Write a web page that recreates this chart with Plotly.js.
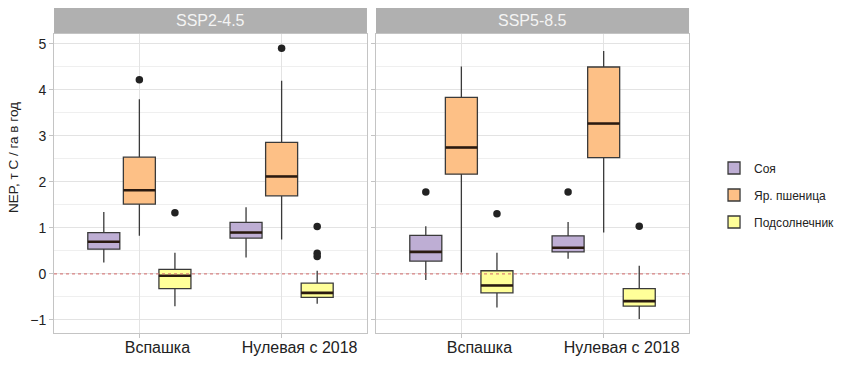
<!DOCTYPE html>
<html>
<head>
<meta charset="utf-8">
<script src="https://cdn.plot.ly/plotly-3.0.1.min.js"></script>
<style>html,body{margin:0;padding:0;background:#fff;}#chart{width:844px;height:390px;}</style>
</head>
<body>
<div id="chart"></div>
<script>
// ---- data ----
const categories = ['Вспашка', 'Нулевая с 2018'];
const crops = ['Соя', 'Яр. пшеница', 'Подсолнечник'];
const scenarios = ['SSP2-4.5', 'SSP5-8.5'];
const yTitle = 'NEP, т C / га в год';
const cropColors = ['#beaed4', '#fdc086', '#ffff99'];

// each entry per category: [lower whisker, q1, median, q3, upper whisker]
const soy245   = [[0.25, 0.54, 0.70, 0.90, 1.35], [0.36, 0.78, 0.90, 1.12, 1.45]];
const wheat245 = [[0.83, 1.52, 1.82, 2.54, 3.80], [0.75, 1.70, 2.12, 2.86, 4.20]];
const sun245   = [[-0.70, -0.32, -0.04, 0.10, 0.46], [-0.65, -0.51, -0.41, -0.20, 0.07]];
const soy585   = [[-0.13, 0.28, 0.48, 0.84, 1.04], [0.33, 0.48, 0.57, 0.83, 1.13]];
const wheat585 = [[0.03, 2.17, 2.75, 3.84, 4.51], [0.90, 2.53, 3.27, 4.50, 4.85]];
const sun585   = [[-0.73, -0.41, -0.25, 0.07, 0.46], [-0.98, -0.70, -0.59, -0.32, 0.18]];

// outliers per category
const soy245Out   = [[], []];
const wheat245Out = [[4.22], [4.91]];
const sun245Out   = [[1.33], [1.03, 0.45, 0.38]];
const soy585Out   = [[1.78], [1.78]];
const wheat585Out = [[], []];
const sun585Out   = [[1.31], [1.04]];

const yTicks = [-1, 0, 1, 2, 3, 4, 5];

// ---- build ----
const FONT = 'Liberation Sans, Arial, sans-serif';
const stats = [[soy245, wheat245, sun245], [soy585, wheat585, sun585]];
const outs  = [[soy245Out, wheat245Out, sun245Out], [soy585Out, wheat585Out, sun585Out]];
const dodge = 0.25, boxW = 0.225;
const traces = [];
scenarios.forEach((sc, s) => {
  const xa = s === 0 ? 'x' : 'x2';
  const ya = s === 0 ? 'y' : 'y2';
  crops.forEach((crop, c) => {
    const st = stats[s][c];
    const off = (c - 1) * dodge;
    const xs = categories.map((_, i) => i + 1 + off);
    traces.push({
      type: 'box', name: crop, legendgroup: crop, showlegend: s === 0,
      xaxis: xa, yaxis: ya, x: xs,
      lowerfence: st.map(d => d[0]), q1: st.map(d => d[1]), median: st.map(d => d[2]),
      q3: st.map(d => d[3]), upperfence: st.map(d => d[4]),
      width: boxW, whiskerwidth: 0, boxpoints: false,
      fillcolor: cropColors[c], line: {color: '#3a3a3a', width: 1.3},
      hoverinfo: 'skip'
    });
    // thick median bars
    const mx = [], my = [];
    st.forEach((d, i) => { mx.push(xs[i] - boxW / 2, xs[i] + boxW / 2, null); my.push(d[2], d[2], null); });
    traces.push({type: 'scatter', mode: 'lines', x: mx, y: my, xaxis: xa, yaxis: ya,
      line: {color: '#2a1a10', width: 2.6}, showlegend: false, hoverinfo: 'skip'});
    // outliers
    const ox = [], oy = [];
    outs[s][c].forEach((arr, i) => arr.forEach(v => { ox.push(xs[i]); oy.push(v); }));
    if (ox.length) traces.push({type: 'scatter', mode: 'markers', x: ox, y: oy, xaxis: xa, yaxis: ya,
      marker: {color: '#222', size: 7.5}, showlegend: false, hoverinfo: 'skip'});
  });
});

const yDom = [0.1462, 0.9128];
const xCommon = {
  range: [0.4, 2.6], tickmode: 'array', tickvals: categories.map((_, i) => i + 1), ticktext: categories,
  showgrid: true, gridcolor: '#e3e3e3', gridwidth: 1, zeroline: false,
  showline: true, mirror: true, linecolor: '#c4c4c4', linewidth: 1,
  ticks: 'outside', ticklen: 4, tickcolor: '#c4c4c4', ticklabelshift: 18, ticklabelstandoff: -4,
  tickfont: {family: FONT, size: 16, color: '#222'}, fixedrange: true
};
const yCommon = {
  range: [-1.283, 5.217], domain: yDom, tickmode: 'array', tickvals: yTicks,
  showgrid: true, gridcolor: '#e3e3e3', gridwidth: 1, zeroline: false,
  minor: {dtick: 0.5, tick0: 0, showgrid: true, gridcolor: '#efefef', gridwidth: 1, ticks: ''},
  showline: true, mirror: true, linecolor: '#c4c4c4', linewidth: 1,
  ticks: 'outside', ticklen: 4, tickcolor: '#c4c4c4',
  tickfont: {family: FONT, size: 14, color: '#222'}, fixedrange: true
};

const shapes = [], annotations = [];
['x', 'x2'].forEach((xa, s) => {
  shapes.push({type: 'rect', xref: xa + ' domain', yref: 'paper', x0: 0, x1: 1, y0: 0.9154, y1: 0.9795,
    fillcolor: '#b0b0b0', line: {width: 0}, layer: 'below'});
  shapes.push({type: 'line', xref: xa + ' domain', yref: s === 0 ? 'y' : 'y2', x0: 0, x1: 1, y0: 0, y1: 0,
    line: {color: '#d46a6a', width: 1.2, dash: 'dot'}, opacity: 0.8, layer: 'above'});
  annotations.push({xref: xa + ' domain', yref: 'paper', x: 0.5, y: 0.9475, text: scenarios[s], showarrow: false,
    font: {family: FONT, size: 16, color: '#f4f4f4'}, xanchor: 'center', yanchor: 'middle'});
});
// y-axis title (placed as in the reference, slightly above the panel centre)
annotations.push({xref: 'paper', yref: 'paper', x: 13 / 844, y: (390 - 158) / 390, text: yTitle, textangle: -90,
  showarrow: false, xanchor: 'center', yanchor: 'middle', font: {family: FONT, size: 13.5, color: '#222'}});

const layout = {
  width: 844, height: 390, margin: {l: 0, r: 0, t: 0, b: 0},
  paper_bgcolor: '#fff', plot_bgcolor: '#fff',
  xaxis: Object.assign({}, xCommon, {domain: [0.0640, 0.4348], anchor: 'y'}),
  xaxis2: Object.assign({}, xCommon, {domain: [0.4455, 0.8164], anchor: 'y2'}),
  yaxis: Object.assign({}, yCommon, {anchor: 'x'}),
  yaxis2: Object.assign({}, yCommon, {anchor: 'x2', matches: 'y', showticklabels: false}),
  showlegend: true,
  legend: {x: 0.846, y: 0.5, xanchor: 'left', yanchor: 'middle', traceorder: 'grouped', tracegroupgap: 8,
    font: {family: FONT, size: 12, color: '#222'}, bgcolor: 'rgba(0,0,0,0)'},
  shapes: shapes, annotations: annotations
};

Plotly.newPlot('chart', traces, layout, {displayModeBar: false, staticPlot: true});
</script>
</body>
</html>
